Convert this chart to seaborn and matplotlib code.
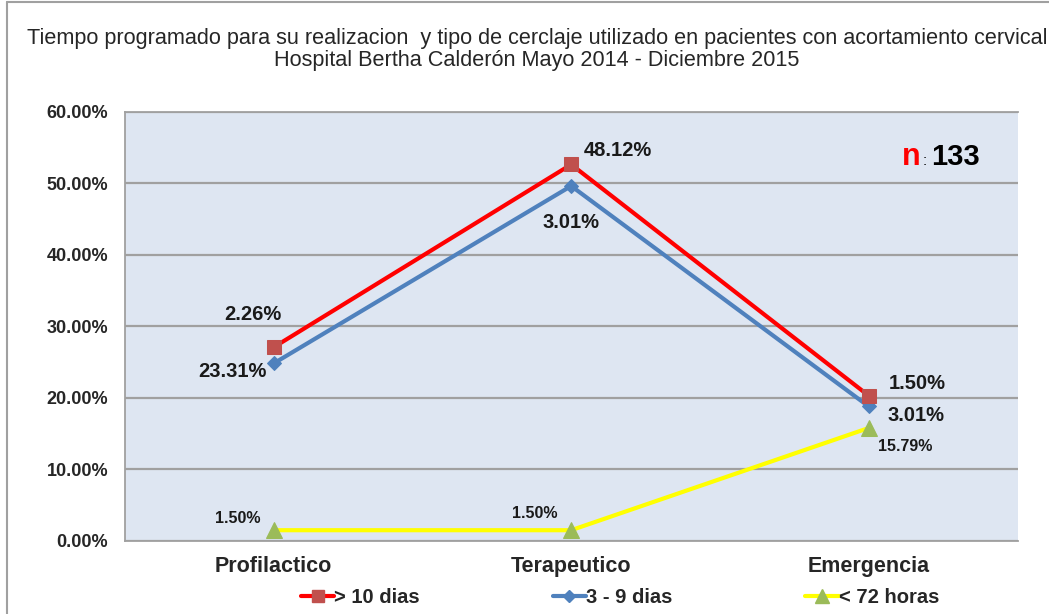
import matplotlib

matplotlib.use("Agg")

import matplotlib.pyplot as plt
import numpy as np
import pandas as pd
import seaborn as sns
from matplotlib.lines import Line2D


categories = ["Profilactico", "Terapeutico", "Emergencia"]
# valores de cada serie (%), la grafica es de lineas apiladas
horas_72 = [1.50, 1.50, 15.79]
dias_3_9 = [23.31, 48.12, 3.01]
dias_10 = [2.26, 3.01, 1.50]
y_ticks = [0, 10, 20, 30, 40, 50, 60]

sns.set_style("white")
plt.rcParams["font.family"] = ["Liberation Sans", "DejaVu Sans"]

cum_72 = np.array(horas_72)
cum_3_9 = cum_72 + np.array(dias_3_9)
cum_10 = cum_3_9 + np.array(dias_10)

df = pd.DataFrame({
    "cat": categories * 3,
    "x": list(range(3)) * 3,
    "valor": list(cum_72) + list(cum_3_9) + list(cum_10),
    "serie": ["< 72 horas"] * 3 + ["3 - 9 dias"] * 3 + ["> 10 dias"] * 3,
})

fig = plt.figure(figsize=(10.49, 6.14), dpi=100)
ax = fig.add_axes([0.119, 0.119, 0.851, 0.699])
ax.set_facecolor("#DEE6F2")

series_style = {
    "< 72 horas": ("#FFFF00", "#9BBB59", "^", 11),
    "3 - 9 dias": ("#4F81BD", "#4F81BD", "D", 7),
    "> 10 dias": ("#FF0000", "#C0504D", "s", 10),
}

for name, (lc, mc, mk, ms) in series_style.items():
    sub = df[df["serie"] == name]
    sns.lineplot(data=sub, x="x", y="valor", ax=ax, color=lc, lw=3,
                 marker=mk, markersize=ms, markerfacecolor=mc,
                 markeredgecolor=mc, legend=False, zorder=3)

# etiquetas de datos (offset en pixeles respecto del marcador)
label_specs = [
    (cum_10, dias_10, [(-21, 33), (0, -58), (49, 12)], 14.5),
    (cum_3_9, dias_3_9, [(-41, -8), (47, 35), (47, -9)], 14.5),
    (cum_72, horas_72, [(-36, 12), (-36, 17), (36, -19)], 11.5),
]
for cum, vals, offs, fs in label_specs:
    for i, (yv, v) in enumerate(zip(cum, vals)):
        ax.annotate(f"{v:.2f}%", xy=(i, yv), xytext=offs[i],
                    textcoords="offset pixels", ha="center", va="center",
                    fontsize=fs, fontweight="bold", color="#1a1a1a", zorder=4)

ax.set_xlim(-0.5, 2.5)
ax.set_ylim(0, 60)
ax.set_yticks(y_ticks)
ax.set_yticklabels([f"{t:.2f}%" for t in y_ticks], fontsize=13, fontweight="bold")
ax.set_xticks(range(3))
ax.set_xticklabels(categories, fontsize=15.5, fontweight="bold")
ax.set_xticks([-0.5, 0.5, 1.5, 2.5], minor=True)
ax.tick_params(axis="x", which="major", length=0, pad=11)
ax.tick_params(axis="x", which="minor", length=5, color="#A0A0A0", direction="out")
ax.tick_params(axis="y", length=6, color="#A0A0A0", direction="out", pad=6)
ax.set_xlabel("")
ax.set_ylabel("")
ax.grid(axis="y", color="#A0A0A0", lw=1.6, zorder=1)
ax.set_axisbelow(True)
for side in ["left", "bottom", "top"]:
    ax.spines[side].set_color("#A0A0A0")
    ax.spines[side].set_linewidth(1.3)
ax.spines["right"].set_visible(False)

# n total
ax.text(0.871, 0.876, "n", transform=ax.transAxes, fontsize=22,
        fontweight="bold", color="#FF0000", va="baseline")
ax.text(0.894, 0.876, ":", transform=ax.transAxes, fontsize=11,
        color="black", va="baseline")
ax.text(0.903, 0.876, "133", transform=ax.transAxes, fontsize=21,
        fontweight="bold", color="black", va="baseline")

fig.text(0.512, 0.937, "Tiempo programado para su realizacion  y tipo de cerclaje "
         "utilizado en pacientes con acortamiento cervical",
         ha="center", va="center", fontsize=15.6)
fig.text(0.512, 0.901, "Hospital Bertha Calderón Mayo 2014 - Diciembre 2015",
         ha="center", va="center", fontsize=15.6)

handles = []
for name in ["> 10 dias", "3 - 9 dias", "< 72 horas"]:
    lc, mc, mk, ms = series_style[name]
    handles.append(Line2D([0], [0], color=lc, lw=3, marker=mk, markersize=ms * 0.9,
                          markerfacecolor=mc, markeredgecolor=mc, label=name))
fig.legend(handles=handles, loc="center", bbox_to_anchor=(0.591, 0.027), ncol=3,
           frameon=False, handlelength=1.65, handletextpad=0.0, columnspacing=6.6,
           prop={"size": 14.5, "weight": "bold"})

# borde del grafico
fig.add_artist(Line2D([0.0067, 0.0067], [0, 0.996], color="#A0A0A0", lw=1.5))
fig.add_artist(Line2D([0.0067, 1], [0.996, 0.996], color="#A0A0A0", lw=1.5))

plt.savefig("out.png", dpi=100)
plt.close()
